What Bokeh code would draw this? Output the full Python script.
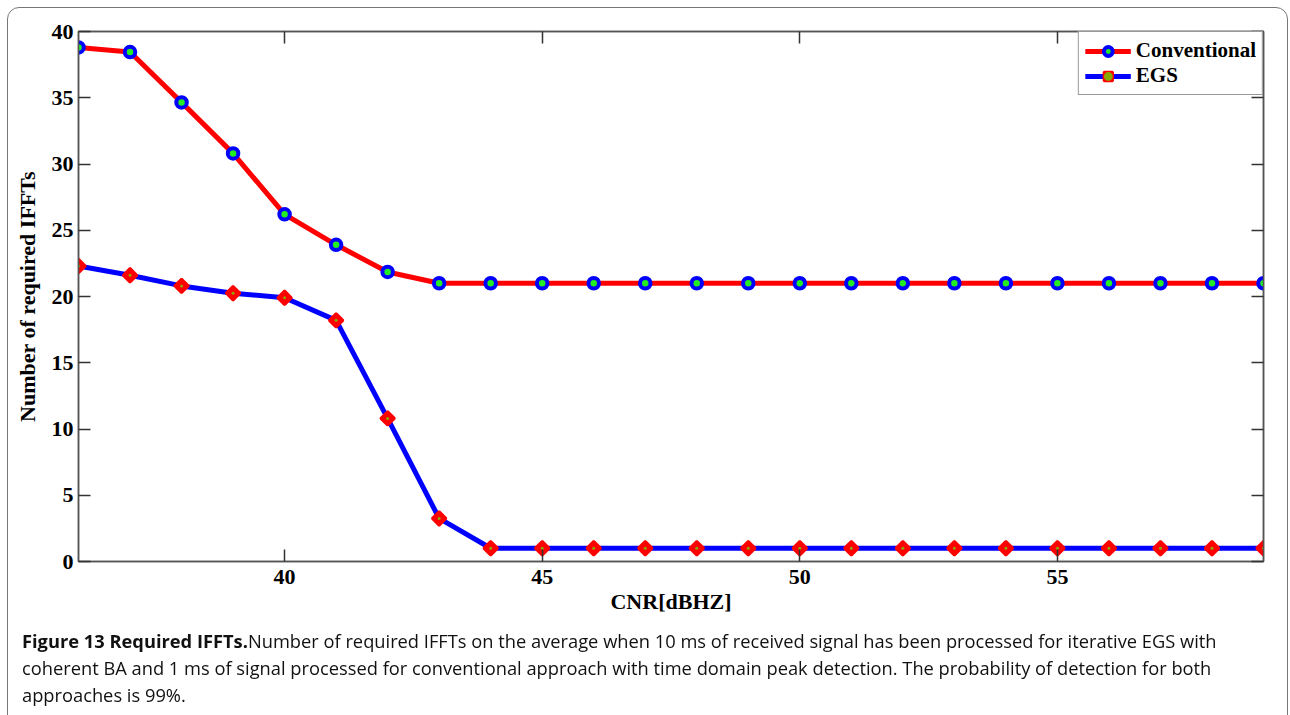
from bokeh.plotting import figure
from bokeh.models import (Range1d, FixedTicker, LinearAxis, CustomJSTickFormatter,
                          Legend, LegendItem, Div)
from bokeh.layouts import column
from bokeh.embed import file_html
from bokeh.resources import INLINE

# ---- data ----
cnr = [36, 37, 38, 39, 40, 41, 42, 43, 44, 45, 46, 47, 48, 49, 50, 51,
       52, 53, 54, 55, 56, 57, 58, 59]
conventional = [38.8, 38.45, 34.65, 30.8, 26.2, 23.9, 21.85, 21.0, 21.0, 21.0,
                21.0, 21.0, 21.0, 21.0, 21.0, 21.0, 21.0, 21.0, 21.0, 21.0,
                21.0, 21.0, 21.0, 21.0]
egs = [22.3, 21.6, 20.8, 20.25, 19.9, 18.2, 10.8, 3.25, 1.0, 1.0, 1.0, 1.0,
       1.0, 1.0, 1.0, 1.0, 1.0, 1.0, 1.0, 1.0, 1.0, 1.0, 1.0, 1.0]
x_ticks = [40, 45, 50, 55]
y_ticks = [0, 5, 10, 15, 20, 25, 30, 35, 40]
x_label = "CNR[dBHZ]"
y_label = "Number of required IFFTs"
series_names = ["Conventional", "EGS"]
caption_bold = "Figure 13 Required IFFTs."
caption_lines = [
    "Number of required IFFTs on the average when 10 ms of received signal has been processed for iterative EGS with",
    "coherent BA and 1 ms of signal processed for conventional approach with time domain peak detection. The probability of detection for both",
    "approaches is 99%.",
]

W = 1290
PH = 620
L, R, T, B = 78, 1263, 31, 561

p = figure(width=W, height=PH, output_backend="svg", toolbar_location=None,
           x_range=Range1d(36, 59), y_range=Range1d(0, 40),
           min_border_left=L, min_border_right=W - R,
           min_border_top=T, min_border_bottom=PH - B)
p.xgrid.visible = False
p.ygrid.visible = False
p.outline_line_color = "#555555"
p.outline_line_width = 1.5
p.background_fill_color = "white"
p.border_fill_color = "white"

serif = "Liberation Serif"
axis_col = "#555555"

def style_axis(ax, labels=True):
    ax.axis_line_color = axis_col
    ax.axis_line_width = 1.5
    ax.major_tick_line_color = "#333333"
    ax.major_tick_line_width = 1.5
    ax.major_tick_in = 12
    ax.major_tick_out = 0
    ax.minor_tick_line_color = None
    ax.major_label_text_font = serif
    ax.major_label_text_font_style = "bold"
    ax.major_label_text_font_size = "22px"
    ax.major_label_text_color = "black"
    ax.axis_label_text_font = serif
    ax.axis_label_text_font_style = "bold"
    ax.axis_label_text_font_size = "22px"
    ax.axis_label_text_color = "black"
    if not labels:
        ax.formatter = CustomJSTickFormatter(code="return ''")

p.xaxis.ticker = FixedTicker(ticks=x_ticks)
p.yaxis.ticker = FixedTicker(ticks=y_ticks)
p.xaxis.axis_label = x_label
p.yaxis.axis_label = y_label
style_axis(p.xaxis[0])
style_axis(p.yaxis[0])
p.xaxis.major_label_standoff = 8
p.xaxis.axis_label_standoff = 2
p.yaxis.major_label_standoff = 5
p.yaxis.axis_label_standoff = 9

top_ax = LinearAxis(ticker=FixedTicker(ticks=x_ticks))
right_ax = LinearAxis(ticker=FixedTicker(ticks=y_ticks))
style_axis(top_ax, labels=False)
style_axis(right_ax, labels=False)
p.add_layout(top_ax, "above")
p.add_layout(right_ax, "right")

# Conventional: red line, blue circle with green face
l1 = p.line(cnr, conventional, line_color="#ff0000", line_width=5)
m1 = p.scatter(cnr, conventional, marker="circle", size=10.5, line_width=4,
               line_color="#0000ff", fill_color="#22ee22")

# EGS: blue line, red diamond with olive-green centre
l2 = p.line(cnr, egs, line_color="#0000ff", line_width=5)
m2 = p.scatter(cnr, egs, marker="square", angle=0.785398, size=10,
               line_width=2.5, line_color="#ff0000", fill_color="#ff0000")
m2c = p.scatter(cnr, egs, marker="circle", size=3, line_color=None,
                fill_color="#88aa00")

legend = Legend(items=[LegendItem(label=series_names[0], renderers=[l1, m1]),
                       LegendItem(label=series_names[1], renderers=[l2, m2, m2c])],
                location="top_right", margin=0, padding=6, spacing=0,
                glyph_width=46, glyph_height=22, label_height=22,
                label_standoff=5,
                label_text_font=serif, label_text_font_style="bold",
                label_text_font_size="21px", label_text_color="black",
                border_line_color="#333333", border_line_width=1.5,
                background_fill_color="white", background_fill_alpha=1)
p.add_layout(legend, "center")

cap_html = (
    '<div style="position:fixed;left:7px;top:7px;width:1281px;height:900px;'
    'border:1.5px solid #777;border-radius:12px;pointer-events:none;"></div>'
    '<div style="position:fixed;left:22px;top:628px;font-family:\'Open Sans\';'
    'font-size:18.3px;line-height:26.8px;white-space:nowrap;color:#111;">'
    '<b>' + caption_bold + '</b>' + caption_lines[0] + '<br>'
    + caption_lines[1] + '<br>' + caption_lines[2] + '</div>'
)
cap = Div(text=cap_html, width=W, height=715 - PH)

layout = column(p, cap, spacing=0)
open("out.html", "w").write(file_html(layout, INLINE))
